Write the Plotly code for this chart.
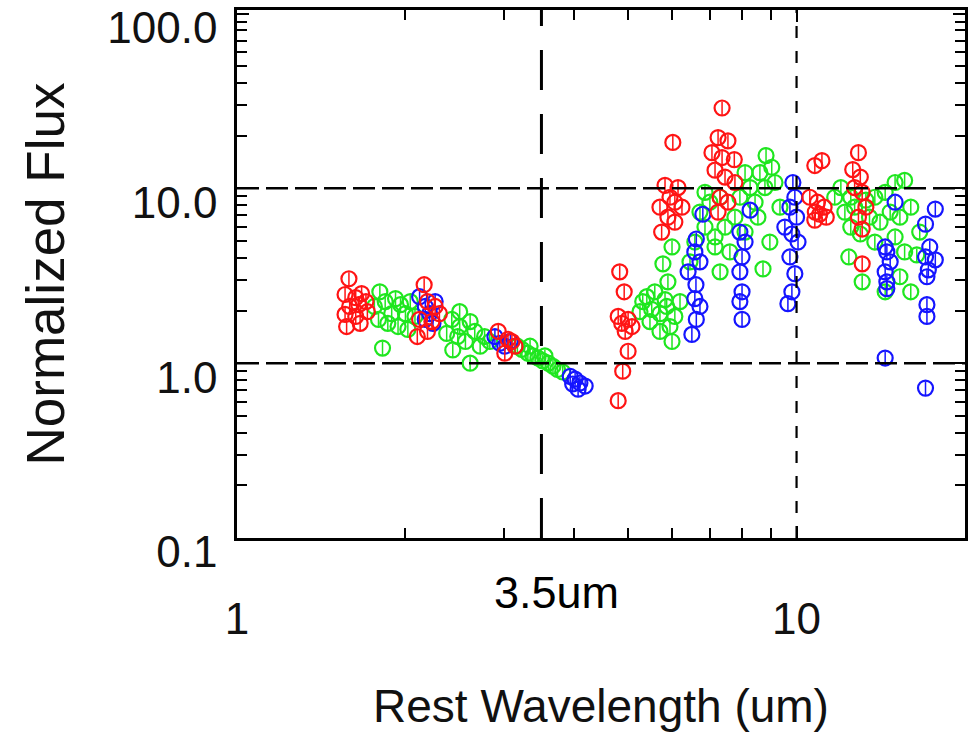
import numpy as np
import plotly.graph_objects as go

# Rest-frame wavelength (um) and normalized flux for the three source groups
red_wave = [1.585, 1.56, 1.63, 1.67, 1.59, 1.65, 1.70, 1.56, 1.63, 1.57, 1.66, 1.71,
            2.16, 2.19, 2.26, 2.12, 2.23, 2.30, 2.19, 2.10,
            2.93, 3.05, 3.14, 3.01, 3.10,
            4.83, 4.92, 4.80, 5.00, 4.87, 5.08, 4.94, 5.00, 4.89, 4.80,
            6.01, 5.82, 6.14, 5.94, 5.70, 6.06, 6.24, 5.89, 6.06, 5.74,
            7.36, 7.24, 7.54, 7.06, 7.36, 7.74, 7.15, 7.45, 7.76, 7.30, 7.54, 7.24,
            10.78, 11.1, 10.56, 10.9, 11.2, 10.8, 11.0, 11.3, 10.78,
            12.9, 12.6, 13.0, 12.7, 13.1, 13.3, 12.9, 13.1, 13.1]
red_flux = [3.04, 2.47, 2.37, 2.50, 2.11, 2.16, 2.25, 1.90, 1.85, 1.62, 1.69, 1.97,
            2.81, 2.25, 2.11, 1.78, 1.73, 1.92, 1.52, 1.42,
            1.52, 1.37, 1.25, 1.14, 1.33,
            3.33, 2.56, 1.85, 1.78, 1.69, 1.62, 1.52, 1.17, 0.90, 0.61,
            18.3, 10.4, 10.1, 8.89, 7.80, 8.33, 7.80, 6.84, 6.41, 5.62,
            28.8, 19.5, 18.7, 16.0, 15.0, 14.6, 12.7, 11.6, 10.8, 8.89, 8.33, 7.31,
            13.5, 14.4, 8.89, 8.33, 7.80, 7.31, 7.11, 6.84, 6.58,
            16.0, 12.8, 11.6, 10.1, 9.49, 7.80, 6.84, 5.85, 3.70]

green_wave = [1.80, 1.84, 1.92, 1.89, 1.79, 1.86, 1.96, 2.00, 2.04, 2.08, 1.94, 1.76, 2.02, 1.82,
              2.42, 2.50, 2.37, 2.61, 2.66, 2.56, 2.77, 2.43, 2.61, 2.72, 2.83, 2.50, 2.48,
              3.23, 3.31, 3.38, 3.45, 3.52, 3.60, 3.67, 3.74, 3.82, 3.34, 3.55, 3.17,
              5.40, 5.58, 5.82, 5.51, 5.70, 5.47, 5.86, 6.06, 5.94, 5.99, 5.70, 6.19, 5.89,
              5.77, 5.99, 5.25, 5.31,
              6.72, 7.00, 7.30, 6.86, 7.15, 7.45, 7.30, 7.15, 7.76, 6.58, 6.86, 6.45, 7.60,
              8.82, 8.09, 8.60, 9.03, 8.26, 8.78, 7.92, 8.43, 9.15, 8.71, 8.96, 9.34, 8.53, 8.09,
              12.0, 12.5, 12.2, 12.7, 13.3, 13.8, 14.4, 15.0, 15.6, 13.5, 14.1, 14.7, 15.3, 16.0,
              12.5, 13.0, 13.8, 15.0, 15.6, 12.4, 13.1, 15.3, 14.4, 16.4, 11.7, 16.6, 16.0]
green_flux = [2.56, 2.25, 2.34, 1.92, 1.78, 1.69, 2.16, 1.92, 2.25, 1.85, 1.62, 2.11, 1.56, 1.22,
              1.78, 1.62, 1.48, 1.73, 1.52, 1.33, 1.42, 1.19, 1.00, 1.25, 1.33, 1.97, 1.42,
              1.20, 1.14, 1.10, 1.07, 1.03, 1.00, 0.96, 0.92, 0.89, 1.25, 1.10, 1.25,
              2.40, 2.56, 2.31, 2.03, 1.92, 1.73, 2.11, 1.85, 1.62, 1.33, 1.52, 2.25, 2.92,
              3.70, 4.62, 1.97, 2.25,
              7.31, 8.33, 8.89, 6.00, 5.27, 6.00, 3.33, 4.62, 6.84, 4.93, 9.49, 3.80, 4.33,
              15.4, 12.3, 12.3, 13.2, 10.1, 10.1, 8.89, 8.33, 10.8, 3.46, 4.93, 7.80, 6.84, 5.62,
              10.1, 8.89, 7.31, 7.80, 8.56, 8.89, 9.49, 10.8, 11.1, 6.84, 6.41, 7.31, 6.84, 7.80,
              6.00, 5.48, 4.93, 5.27, 4.33, 4.05, 2.92, 3.12, 2.56, 4.16, 8.89, 5.62, 2.56]

blue_wave = [2.12, 2.17, 2.21, 2.24, 2.17, 2.26,
             2.89, 2.95, 3.01, 3.08,
             3.94, 4.02, 4.10, 3.98, 4.07, 4.19,
             6.80, 6.62, 6.58, 6.72, 6.40, 6.61, 6.58, 6.72, 6.62, 6.50,
             8.26, 7.92, 8.09, 7.99, 7.92, 7.99, 7.92, 7.99,
             9.85, 9.93, 9.73, 10.0, 9.53, 9.81, 10.06, 9.73, 9.93, 9.81, 9.65,
             15.0, 14.4, 14.5, 14.7, 14.4, 14.5, 14.5, 14.4,
             17.7, 17.0, 17.3, 17.0, 17.7, 17.2, 17.1, 17.1, 17.1, 17.0]
blue_flux = [2.40, 2.11, 1.92, 1.69, 1.78, 2.25,
             1.42, 1.30, 1.25, 1.33,
             0.84, 0.81, 0.77, 0.76, 0.71, 0.74,
             7.11, 5.13, 4.33, 3.80, 3.33, 2.81, 2.34, 2.11, 1.78, 1.46,
             7.50, 5.62, 4.93, 4.05, 3.33, 2.56, 2.25, 1.78,
             10.8, 8.89, 7.80, 6.84, 6.00, 5.48, 4.93, 4.05, 3.25, 2.56, 2.19,
             8.33, 4.62, 4.33, 3.80, 3.33, 2.92, 2.67, 1.07,
             7.61, 6.24, 4.62, 4.05, 3.90, 3.42, 3.12, 2.16, 1.85, 0.72]

# Axis ticks
x_major = [1, 10]
x_major_text = ["1", "10"]
x_minor = [2, 3, 4, 5, 6, 7, 8, 9]
y_major = [0.1, 1, 10, 100]
y_major_text = ["0.1", "1.0", "10.0", "100.0"]
y_minor = [0.2, 0.3, 0.4, 0.5, 0.6, 0.7, 0.8, 0.9,
           2, 3, 4, 5, 6, 7, 8, 9,
           20, 30, 40, 50, 60, 70, 80, 90]

# Reference lines (shapes take data values on these log axes)
flux_levels = [1, 10]
feature_wave = 3.5
decade_wave = 10

FONT = "Liberation Sans, Arial, Helvetica, sans-serif"

fig = go.Figure()

series = [
    ("green", green_wave, green_flux, "#1fe61f"),
    ("blue", blue_wave, blue_flux, "#1515ff"),
    ("red", red_wave, red_flux, "#ff1414"),
]
for name, xs, ys, col in series:
    fig.add_trace(go.Scatter(
        x=xs, y=ys, mode="markers", name=name,
        marker=dict(symbol="circle-open", size=15, color=col, line=dict(width=2.2, color=col)),
        error_y=dict(type="percent", value=9, thickness=1.5, width=0, color=col),
        showlegend=False,
    ))

# Horizontal dashed levels at flux 1 and 10
for lvl in flux_levels:
    fig.add_shape(type="line", xref="paper", x0=0, x1=1, yref="y", y0=lvl, y1=lvl,
                  line=dict(color="black", width=2.5, dash="22px,7px"))

# Long-dashed marker at 3.5 um
fig.add_shape(type="line", xref="x", x0=feature_wave, x1=feature_wave,
              yref="paper", y0=0, y1=1,
              line=dict(color="black", width=3, dash="40px,24px"))
# Short-dashed marker at 10 um
fig.add_shape(type="line", xref="x", x0=decade_wave, x1=decade_wave,
              yref="paper", y0=0, y1=1,
              line=dict(color="black", width=2.2, dash="12px,13px"))

# Annotations on log axes take log10 positions
fig.add_annotation(text="3.5um", xref="x", x=np.log10(feature_wave), xshift=15,
                   yref="paper", y=-0.104, yanchor="middle", showarrow=False,
                   font=dict(family=FONT, size=45, color="black"))

axis_common = dict(
    type="log", showline=True, linecolor="black", linewidth=2.5, mirror="allticks",
    ticks="inside", ticklen=12, tickwidth=2, tickcolor="black", showgrid=False,
    zeroline=False, automargin=False, ticklabeloverflow="allow",
    tickfont=dict(family=FONT, size=44, color="#111111"),
)

fig.update_xaxes(
    **axis_common, range=[0, np.log10(20)],
    tickmode="array", tickvals=x_major, ticktext=x_major_text,
    minor=dict(tickmode="array", tickvals=x_minor, ticks="inside", ticklen=10,
               tickwidth=2, tickcolor="black", showgrid=False),
    ticklabelstandoff=40,
    title=dict(text="Rest Wavelength (um)", standoff=49,
               font=dict(family=FONT, size=46, color="#111111")),
)
fig.update_yaxes(
    **axis_common, range=[-1, 2.02],
    tickmode="array", tickvals=y_major, ticktext=y_major_text,
    minor=dict(tickmode="array", tickvals=y_minor, ticks="inside", ticklen=10,
               tickwidth=2, tickcolor="black", showgrid=False),
    ticklabelstandoff=8, ticklabelshift=14,
    title=dict(text="Normalized Flux", standoff=26,
               font=dict(family=FONT, size=53, color="#111111")),
)

fig.update_layout(
    width=971, height=742,
    margin=dict(l=237, r=6, t=10, b=204),
    paper_bgcolor="white", plot_bgcolor="white",
    template="none",
)

fig.write_html("out.html")
